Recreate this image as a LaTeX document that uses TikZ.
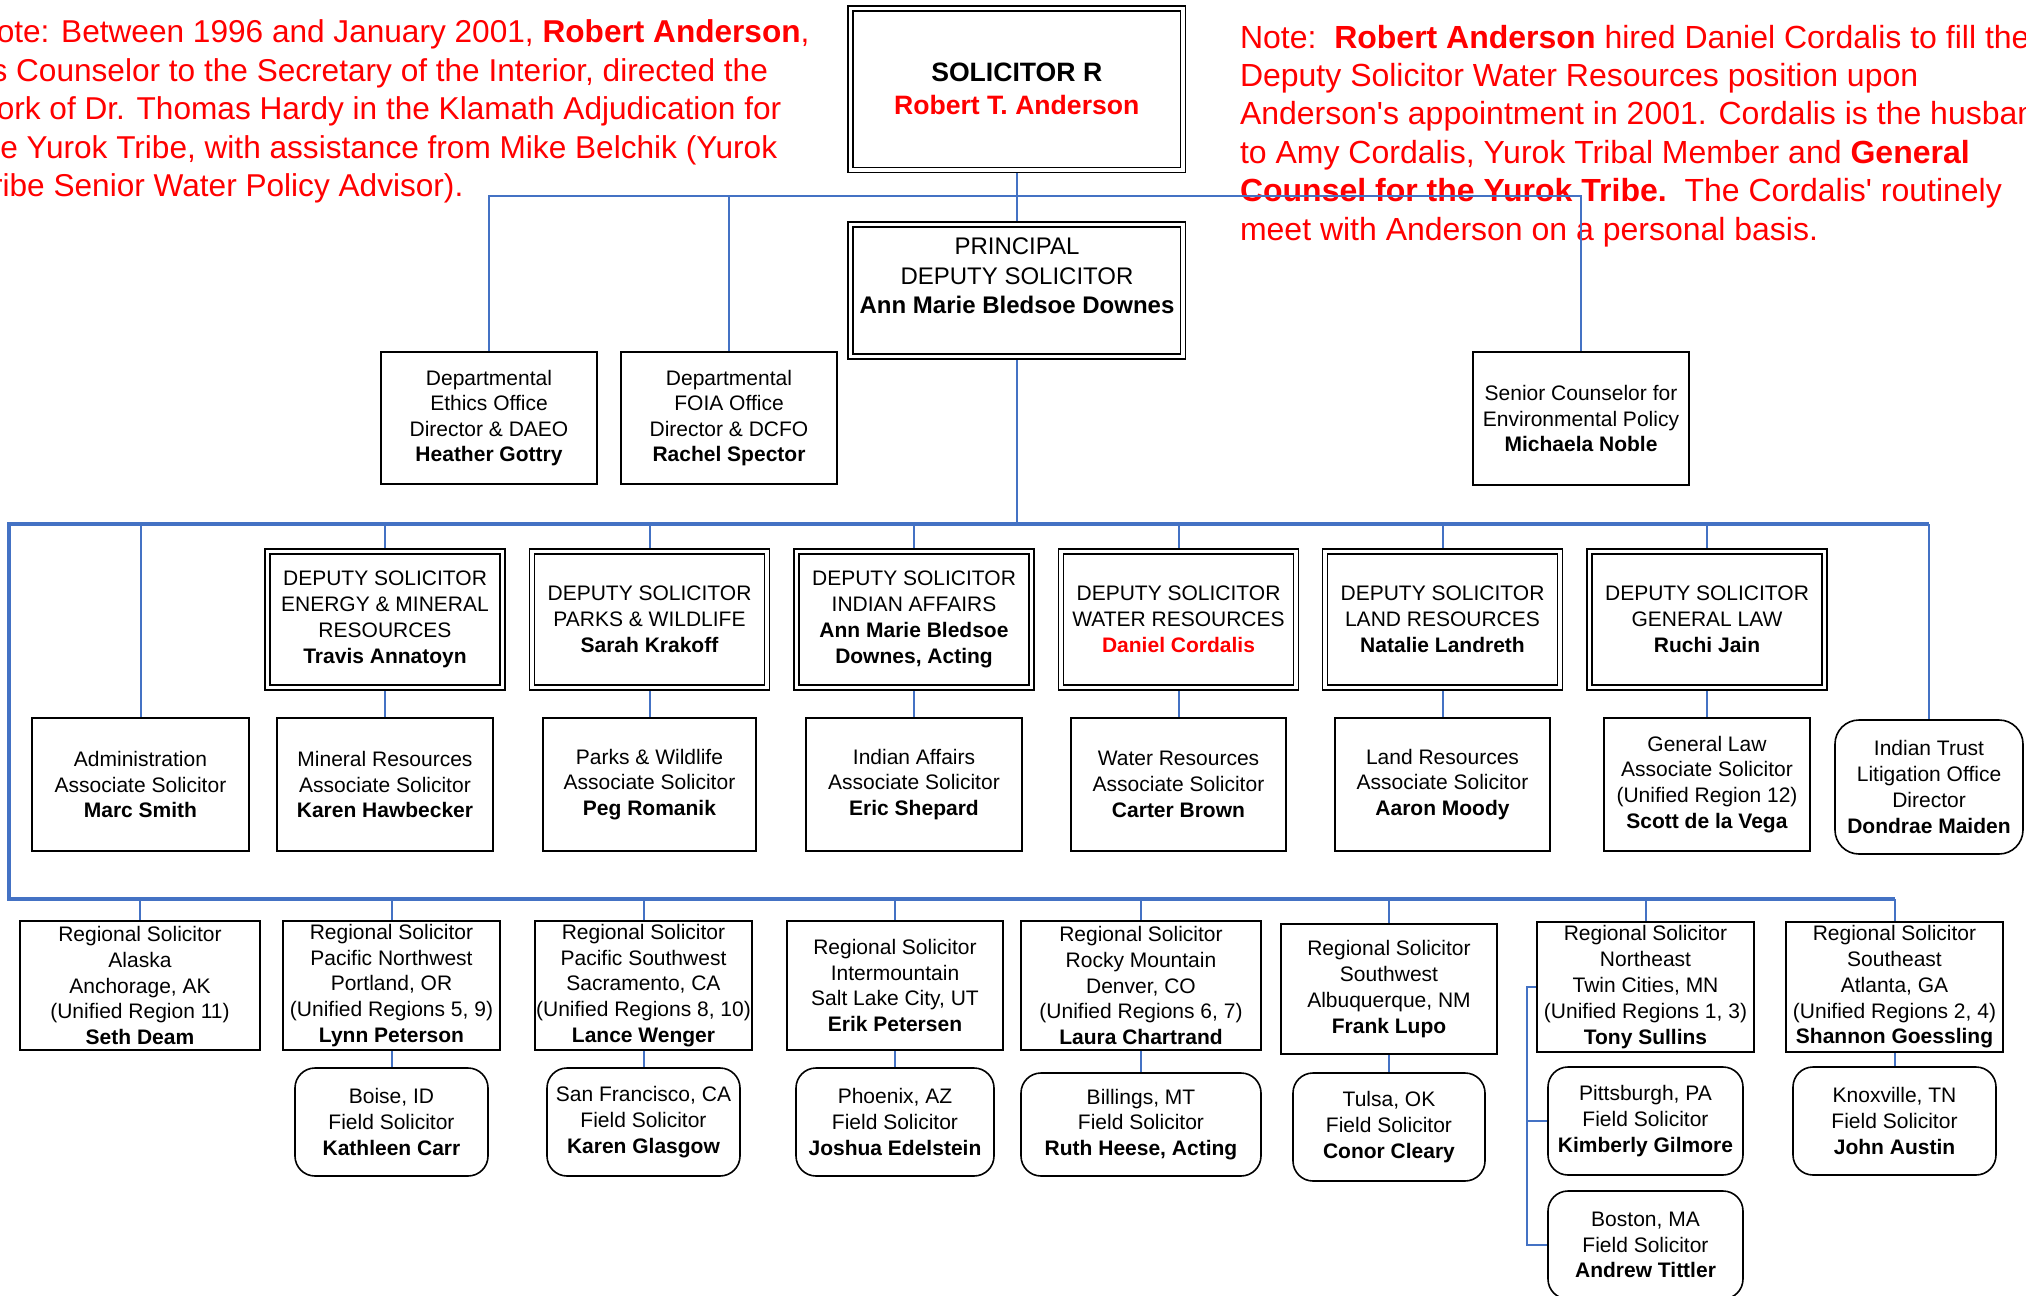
\documentclass[tikz,border=0pt]{standalone}
\usepackage{fontspec}
\setmainfont{Liberation Sans}
\definecolor{lnblue}{HTML}{4472C4}
\definecolor{notered}{HTML}{FF0000}
\pgfdeclarelayer{bg}
\pgfsetlayers{bg,main}
\newcommand{\ob}[8][]{%
  \pgfmathsetmacro\obx{(#4+#6)/2}%
  \pgfmathsetmacro\oby{(#5+#7)/2}%
  \pgfmathsetmacro\obw{(#6-#4)/2}%
  \pgfmathsetmacro\obh{(#7-#5)/2}%
  \node[#2, minimum width=\obw pt, minimum height=\obh pt, #1] (#3) at (\obx,\oby) {#8};}
\tikzset{
  basetxt/.style={align=center, inner sep=0pt, outer sep=0pt, font=\fontsize{10.5}{12.9}\selectfont},
  sbox/.style={basetxt, draw, line width=0.8pt},
  dbox/.style={basetxt, draw, line width=0.75pt, double, double distance=1.6pt},
  rbox/.style={sbox, rounded corners=10pt},
  conn/.style={draw=lnblue, line width=1pt},
  bus/.style={draw=lnblue, line width=1.6pt},
  note/.style={align=left, inner sep=0pt, outer sep=0pt, text=notered, font=\fontsize{16}{19.2}\selectfont},
}
\begin{document}
\begin{tikzpicture}[x=0.5pt,y=-0.5pt]
\useasboundingbox (0,0) rectangle (2026,1296);
% ---- top
\ob[font=\fontsize{13.3}{16.5}\selectfont]{dbox}{sol}{850.5}{8.5}{1183}{170}{\textbf{SOLICITOR R}\\\textcolor{notered}{\textbf{Robert T. Anderson}}}
\ob{dbox}{pds}{850.5}{224.5}{1183}{356.5}{}
\node[basetxt, font=\fontsize{12}{14.7}\selectfont] (pdstext) at (1017,276) {PRINCIPAL\\DEPUTY SOLICITOR\\\textbf{Ann Marie Bledsoe Downes}};
\ob[font=\fontsize{10.5}{12.7}\selectfont]{sbox}{ethics}{381}{352}{597}{484}{Departmental\\Ethics Office\\Director \& DAEO\\\textbf{Heather Gottry}}
\ob[font=\fontsize{10.5}{12.7}\selectfont]{sbox}{foia}{621}{352}{837}{484}{Departmental\\FOIA Office\\Director \& DCFO\\\textbf{Rachel Spector}}
\ob[font=\fontsize{10.5}{12.7}\selectfont]{sbox}{senior}{1473}{352}{1689}{485}{Senior Counselor for\\Environmental Policy\\\textbf{Michaela Noble}}
% ---- deputies
\ob{dbox}{energy}{267.5}{551.5}{502.5}{687.5}{DEPUTY SOLICITOR\\ENERGY \& MINERAL\\RESOURCES\\\textbf{Travis Annatoyn}}
\ob{dbox}{parks}{532}{551.5}{767}{687.5}{DEPUTY SOLICITOR\\PARKS \& WILDLIFE\\\textbf{Sarah Krakoff}}
\ob{dbox}{indian}{796.5}{551.5}{1031.5}{687.5}{DEPUTY SOLICITOR\\INDIAN AFFAIRS\\\textbf{Ann Marie Bledsoe}\\\textbf{Downes, Acting}}
\ob{dbox}{water}{1061}{551.5}{1296}{687.5}{DEPUTY SOLICITOR\\WATER RESOURCES\\\textcolor{notered}{\textbf{Daniel Cordalis}}}
\ob{dbox}{land}{1325}{551.5}{1560}{687.5}{DEPUTY SOLICITOR\\LAND RESOURCES\\\textbf{Natalie Landreth}}
\ob{dbox}{general}{1589.5}{551.5}{1824.5}{687.5}{DEPUTY SOLICITOR\\GENERAL LAW\\\textbf{Ruchi Jain}}
% ---- associates
\ob{sbox}{admin}{32}{718}{249}{851}{Administration\\Associate Solicitor\\\textbf{Marc Smith}}
\ob{sbox}{mineral}{277}{718}{493}{851}{Mineral Resources\\Associate Solicitor\\\textbf{Karen Hawbecker}}
\ob{sbox}{parksa}{543}{718}{756}{851}{Parks \& Wildlife\\Associate Solicitor\\\textbf{Peg Romanik}}
\ob{sbox}{indiana}{806}{718}{1022}{851}{Indian Affairs\\Associate Solicitor\\\textbf{Eric Shepard}}
\ob{sbox}{watera}{1071}{718}{1286}{851}{Water Resources\\Associate Solicitor\\\textbf{Carter Brown}}
\ob{sbox}{landa}{1335}{718}{1550}{851}{Land Resources\\Associate Solicitor\\\textbf{Aaron Moody}}
\ob{sbox}{generala}{1604}{718}{1810}{851}{General Law\\Associate Solicitor\\(Unified Region 12)\\\textbf{Scott de la Vega}}
\ob[rounded corners=12pt]{sbox}{trust}{1835}{720}{2023}{854}{Indian Trust\\Litigation Office\\Director\\\textbf{Dondrae Maiden}}
% ---- regionals
\ob{sbox}{alaska}{20}{921}{260}{1050}{Regional Solicitor\\Alaska\\Anchorage, AK\\(Unified Region 11)\\\textbf{Seth Deam}}
\ob{sbox}{pnw}{283}{921}{500}{1050}{Regional Solicitor\\Pacific Northwest\\Portland, OR\\(Unified Regions 5, 9)\\\textbf{Lynn Peterson}}
\ob{sbox}{psw}{535}{921}{752}{1050}{Regional Solicitor\\Pacific Southwest\\Sacramento, CA\\(Unified Regions 8, 10)\\\textbf{Lance Wenger}}
\ob{sbox}{inter}{787}{921}{1003}{1050}{Regional Solicitor\\Intermountain\\Salt Lake City, UT\\\textbf{Erik Petersen}}
\ob{sbox}{rocky}{1021}{921}{1261}{1050}{Regional Solicitor\\Rocky Mountain\\Denver, CO\\(Unified Regions 6, 7)\\\textbf{Laura Chartrand}}
\ob{sbox}{sw}{1281}{924}{1497}{1054}{Regional Solicitor\\Southwest\\Albuquerque, NM\\\textbf{Frank Lupo}}
\ob{sbox}{ne}{1537}{922}{1754}{1052}{Regional Solicitor\\Northeast\\Twin Cities, MN\\(Unified Regions 1, 3)\\\textbf{Tony Sullins}}
\ob{sbox}{se}{1786}{922}{2003}{1052}{Regional Solicitor\\Southeast\\Atlanta, GA\\(Unified Regions 2, 4)\\\textbf{Shannon Goessling}}
% ---- field
\ob{rbox}{boise}{295}{1068}{488}{1176}{Boise, ID\\Field Solicitor\\\textbf{Kathleen Carr}}
\ob{rbox}{sf}{547}{1068}{740}{1176}{San Francisco, CA\\Field Solicitor\\\textbf{Karen Glasgow}}
\ob{rbox}{phx}{796}{1068}{994}{1176}{Phoenix, AZ\\Field Solicitor\\\textbf{Joshua Edelstein}}
\ob{rbox}{bil}{1021}{1073}{1261}{1176}{Billings, MT\\Field Solicitor\\\textbf{Ruth Heese, Acting}}
\ob{rbox}{tulsa}{1293}{1073}{1485}{1181}{Tulsa, OK\\Field Solicitor\\\textbf{Conor Cleary}}
\ob{rbox}{pit}{1548}{1067}{1743}{1175}{Pittsburgh, PA\\Field Solicitor\\\textbf{Kimberly Gilmore}}
\ob{rbox}{bos}{1548}{1191}{1743}{1299}{Boston, MA\\Field Solicitor\\\textbf{Andrew Tittler}}
\ob{rbox}{knox}{1793}{1067}{1996}{1175}{Knoxville, TN\\Field Solicitor\\\textbf{John Austin}}
% ---- background layer: notes and connectors
\begin{pgfonlayer}{bg}
\fill[white] (0,0) rectangle (2026,1296);
\node[note, font=\fontsize{15.8}{19.2}\selectfont, anchor=north west] (lnote) at (-26,20) {Note: Between 1996 and January 2001, \textbf{Robert Anderson},\\as Counselor to the Secretary of the Interior, directed the\\work of Dr. Thomas Hardy in the Klamath Adjudication for\\the Yurok Tribe, with assistance from Mike Belchik (Yurok\\Tribe Senior Water Policy Advisor).};
\node[note, anchor=north west] (rnote) at (1240,25) {Note:\ \ \textbf{Robert Anderson} hired Daniel Cordalis to fill the\\Deputy Solicitor Water Resources position upon\\Anderson\textquotesingle s appointment in 2001. Cordalis is the husband\\to Amy Cordalis, Yurok Tribal Member and \textbf{General}\\\textbf{Counsel for the Yurok Tribe.}\ \ The Cordalis\textquotesingle\ routinely\\meet with Anderson on a personal basis.};
\coordinate (tb) at (0,196);
\coordinate (mb) at (9,524);
\coordinate (bb) at (9,899);
\coordinate (nb) at (1527,987);
\draw[conn] (sol.south) -- (pds.north);
\draw[conn] (ethics.north) -- (ethics.north |- tb) -- (senior.north |- tb) -- (senior.north);
\draw[conn] (foia.north) -- (foia.north |- tb);
\draw[conn] (pds.south) -- (pds.south |- mb);
\draw[bus] (trust.north |- mb) -- (mb) -- (bb) -- (se.north |- bb);
\foreach \n in {admin,energy,parks,indian,water,land,general,trust}
  \draw[conn] (\n.north) -- (\n.north |- mb);
\foreach \a/\b in {energy/mineral,parks/parksa,indian/indiana,water/watera,land/landa,general/generala,pnw/boise,psw/sf,inter/phx,rocky/bil,sw/tulsa,se/knox}
  \draw[conn] (\a.south) -- (\b.north);
\foreach \n in {alaska,pnw,psw,inter,rocky,sw,ne,se}
  \draw[conn] (\n.north) -- (\n.north |- bb);
\draw[conn] (ne.west) -- (nb) -- (nb |- bos.west) -- (bos.west);
\draw[conn] (nb |- pit.west) -- (pit.west);
\end{pgfonlayer}
\end{tikzpicture}
\end{document}
